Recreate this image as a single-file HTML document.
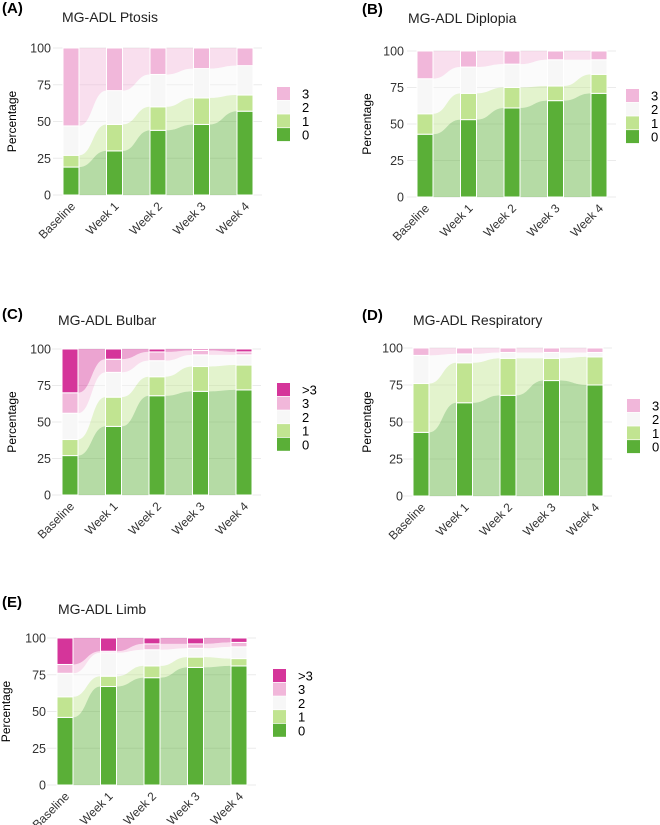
<!DOCTYPE html>
<html><head><meta charset="utf-8"><style>
body{margin:0;background:#fff;}
svg{display:block;font-family:"Liberation Sans",sans-serif;}
</style></head><body>
<svg id="fig" width="660" height="825"></svg>
<script>
const categories = ["Baseline","Week 1","Week 2","Week 3","Week 4"];
const levelsA = ["0","1","2","3"];
const levels5 = ["0","1","2","3",">3"];
const yTicks = [0,25,50,75,100];
// cumulative upper boundaries (%) per category, from level 0 upward
const ptosisCum = [[19,27,47,100],[30,48,71,100],[44,60,82,100],[48,66,86,100],[57,68,88,100]];
const diplopiaCum = [[43,57,81,100],[53,71,89,100],[61,75,91,100],[66,76,94,100],[71,84,94,100]];
const bulbarCum = [[27,38,56,70,100],[47,67,84,93,100],[68,81,92,98,100],[71,88,96,99,100],[72,89,96,98,100]];
const respCum = [[43,76,95,100],[63,90,96,100],[68,93,97,100],[78,93,97,100],[75,94,97,100]];
const limbCum = [[46,60,76,82,100],[67,74,90,91,100],[73,81,92,96,100],[80,87,93,96,100],[81,86,94,97,100]];

const colors = {"0":"#5aaf37","1":"#c1e491","2":"#f7f7f7","3":"#f1b7da",">3":"#d5359a"};
const NS="http://www.w3.org/2000/svg";
const svg=document.getElementById('fig');
function mk(tag,attrs,parent){const e=document.createElementNS(NS,tag);for(const k in attrs)e.setAttribute(k,attrs[k]);(parent||svg).appendChild(e);return e;}

function panel(cfg){
  const g=mk('g',{});
  
  
  const bw=16, step=43.5;
  const y=v=>cfg.y0-(cfg.y0-cfg.y100)*v/100;
  const xl=i=>cfg.bx+i*step;
  const lt=mk('text',{x:cfg.lx,y:cfg.ly,'font-size':15,'font-weight':'bold',fill:'#000'},g);lt.textContent=cfg.letter;
  
  
  const tt=mk('text',{x:cfg.tx,y:cfg.ty,'font-size':14,fill:'#222'},g);tt.textContent=cfg.title;
  
  
  yTicks.forEach(t=>{
    const gl=mk('line',{x1:cfg.bx-10,x2:cfg.bx+199,y1:y(t),y2:y(t),stroke:'#ebebeb','stroke-width':1},g);
    
    
    const tl=mk('text',{x:cfg.tickX,y:y(t)+4.5,'font-size':12.5,fill:'#333','text-anchor':'end'},g);tl.textContent=t;
    
    
  });
  const yt=mk('text',{x:0,y:0,'font-size':12,fill:'#000','text-anchor':'middle',transform:`translate(${cfg.px},${(cfg.y0+cfg.y100)/2}) rotate(-90)`},g);yt.textContent='Percentage';
  
  
  const data=cfg.data, lv=cfg.levels;
  for(let i=0;i<data.length-1;i++){
    const x1=xl(i)+bw, x2=xl(i+1), xm=(x1+x2)/2;
    for(let k=lv.length-1;k>=0;k--){
      const a0=k?data[i][k-1]:0, a1=data[i][k], b0=k?data[i+1][k-1]:0, b1=data[i+1][k];
      const d=`M${x1},${y(a1)} C${xm},${y(a1)} ${xm},${y(b1)} ${x2},${y(b1)} L${x2},${y(b0)} C${xm},${y(b0)} ${xm},${y(a0)} ${x1},${y(a0)} Z`;
      const p=mk('path',{d:d,fill:colors[lv[k]],'fill-opacity':0.45},g);
      
      
    }
  }
  data.forEach((cum,i)=>{
    cum.forEach((v,k)=>{
      const lo=k?cum[k-1]:0;
      const r=mk('rect',{x:xl(i),y:y(v),width:bw,height:y(lo)-y(v),fill:colors[lv[k]],stroke:'#fff','stroke-width':1},g);
      
      
    });
    const cx=xl(i)+bw/2+5, cy=cfg.y0+12;
    const xt=mk('text',{x:0,y:0,'font-size':12,fill:'#333','text-anchor':'end',transform:`translate(${cx},${cy}) rotate(-45)`},g);xt.textContent=categories[i];
    
    
  });
  const n=lv.length;
  for(let j=0;j<n;j++){
    const k=n-1-j, ky=cfg.legY+j*13.7;
    const r=mk('rect',{x:cfg.legX,y:ky,width:13,height:13,fill:colors[lv[k]]},g);
    
    
    const lt2=mk('text',{x:cfg.legX+25,y:ky+11.5,'font-size':13,fill:'#000'},g);lt2.textContent=lv[k];
    
    
  }
}
panel({id:'ptosis',letter:'(A)',title:'MG-ADL Ptosis',lx:2,ly:13,tx:62,ty:22,bx:63,y100:48,y0:195,tickX:51,px:16,legX:277,legY:87,data:ptosisCum,levels:levelsA});
panel({id:'diplopia',letter:'(B)',title:'MG-ADL Diplopia',lx:362,ly:14,tx:408,ty:23,bx:417,y100:51,y0:197,tickX:404,px:371,legX:626,legY:89,data:diplopiaCum,levels:levelsA});
panel({id:'bulbar',letter:'(C)',title:'MG-ADL Bulbar',lx:2,ly:319,tx:58,ty:325,bx:62,y100:349,y0:495,tickX:51,px:16,legX:277,legY:383,data:bulbarCum,levels:levels5});
panel({id:'respiratory',letter:'(D)',title:'MG-ADL Respiratory',lx:362,ly:320,tx:413,ty:325,bx:413,y100:348,y0:496,tickX:403,px:371,legX:627,legY:399,data:respCum,levels:levelsA});
panel({id:'limb',letter:'(E)',title:'MG-ADL Limb',lx:2,ly:607,tx:58,ty:614,bx:57,y100:638,y0:785,tickX:46,px:10,legX:273,legY:669,data:limbCum,levels:levels5});
</script>
</body></html>
